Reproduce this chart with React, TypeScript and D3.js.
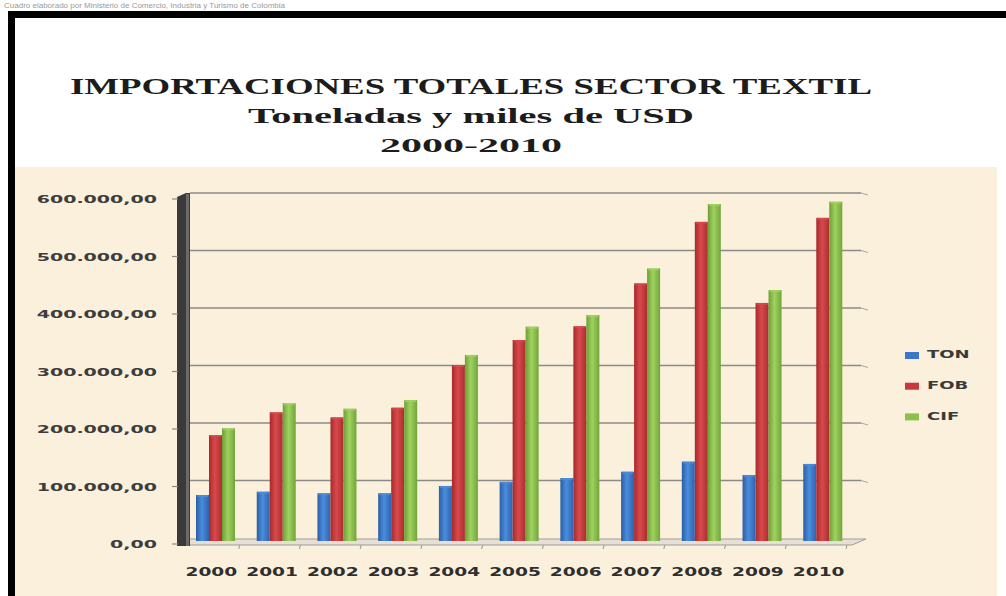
import * as d3 from 'd3';

const WIDTH = 1006;
const HEIGHT = 596;

const YEARS = ['2000', '2001', '2002', '2003', '2004', '2005', '2006', '2007', '2008', '2009', '2010'];
const SERIES = ['TON', 'FOB', 'CIF'];
const TON = [80000, 85700, 83000, 83000, 95700, 103000, 109500, 120500, 138000, 114800, 134000];
const FOB = [184000, 223800, 215000, 231800, 306000, 349600, 373500, 448000, 555000, 414000, 562000];
const CIF = [196000, 239500, 230000, 245000, 323500, 372700, 393000, 474000, 586000, 436500, 590000];
const Y_TICKS = [0, 100000, 200000, 300000, 400000, 500000, 600000];

const TITLE = ['IMPORTACIONES TOTALES SECTOR TEXTIL', 'Toneladas y miles de USD', '2000-2010'];

// dark / light / dark stops for the cylinder-ish 3d look
const COLORS: Record<string, string[]> = {
  TON: ['#2a5ea8', '#4b8ddb', '#2d63b0'],
  FOB: ['#a52a2c', '#d9494b', '#ab2e30'],
  CIF: ['#6c9e35', '#a0d260', '#72a53a'],
};
const LEGEND_SWATCH: Record<string, string> = { TON: '#3a78c9', FOB: '#c53a3c', CIF: '#8cc04c' };

const esLocale = d3.formatLocale({ decimal: ',', thousands: '.', grouping: [3], currency: ['', ''] });
const fmt = esLocale.format(',.2f');

export default function App() {
  const values: Record<string, number[]> = { TON, FOB, CIF };

  const y = d3.scaleLinear().domain([0, 600000]).range([541, 196]);
  const x0 = d3.scaleBand<string>().domain(YEARS).range([179, 847]).padding(0);
  const x1 = d3.scaleBand<string>().domain(SERIES).range([17, 56]).padding(0);

  const floorY = y(0);

  return (
    <div style={{ position: 'absolute', left: 0, top: 0 }}>
      <svg width={WIDTH} height={HEIGHT} style={{ display: 'block' }}>
        <defs>
          {SERIES.map((s) => (
            <linearGradient key={s} id={'grad-' + s} x1="0" x2="1" y1="0" y2="0">
              <stop offset="0%" stopColor={COLORS[s][0]} />
              <stop offset="45%" stopColor={COLORS[s][1]} />
              <stop offset="100%" stopColor={COLORS[s][2]} />
            </linearGradient>
          ))}
        </defs>

        <rect x={0} y={0} width={WIDTH} height={HEIGHT} fill="#ffffff" />

        {/* small caption above the frame */}
        <text x={4} y={8} fontFamily="Liberation Sans, Arial" fontSize={8} fill="#9a9a9a">
          Cuadro elaborado por Ministerio de Comercio, Industria y Turismo de Colombia
        </text>

        {/* black frame */}
        <rect x={8} y={11} width={WIDTH - 8} height={7} fill="#000" />
        <rect x={8} y={11} width={7} height={HEIGHT - 11} fill="#000" />

        {/* beige plot background */}
        <rect x={15} y={167} width={982} height={HEIGHT - 167} fill="#fbf0dc" />

        {/* titles */}
        <g fontFamily="Liberation Serif, Times New Roman, serif" fontWeight="bold" fill="#1c1c1c" textAnchor="middle">
          <text x={471} y={94} fontSize={23} textLength={802} lengthAdjust="spacingAndGlyphs">
            {TITLE[0]}
          </text>
          <text x={471} y={123} fontSize={21} textLength={446} lengthAdjust="spacingAndGlyphs">
            {TITLE[1]}
          </text>
          <text x={471} y={152} fontSize={19} textLength={182} lengthAdjust="spacingAndGlyphs">
            {TITLE[2]}
          </text>
        </g>

        {/* gridlines on the back wall */}
        {Y_TICKS.filter((t) => t > 0).map((t) => (
          <g key={'g' + t}>
            <line x1={190} x2={861} y1={y(t) - 3} y2={y(t) - 3} stroke="#8c8a86" strokeWidth={1.6} />
            <line x1={861} x2={868} y1={y(t) - 3} y2={y(t) - 1} stroke="#a8a6a0" strokeWidth={1} />
          </g>
        ))}

        {/* floor */}
        <polygon
          points={`178,${floorY + 4} 852,${floorY + 4} 866,${floorY - 2} 190,${floorY - 2}`}
          fill="#e6e0d4"
          stroke="#a09d96"
          strokeWidth={1}
        />
        {YEARS.map((yr) => (
          <line
            key={'xt' + yr}
            x1={x0(yr)! + x0.bandwidth()}
            x2={x0(yr)! + x0.bandwidth() - 1}
            y1={floorY + 4}
            y2={floorY + 8}
            stroke="#9a978f"
            strokeWidth={1}
          />
        ))}

        {/* y axis wall */}
        <polygon points={`177,197 186,193 190,193 190,${floorY + 5} 177,${floorY + 5}`} fill="#3a3a3a" />
        <rect x={186} y={194} width={3} height={floorY - 189} fill="#6b6b6b" />
        {Y_TICKS.map((t) => (
          <line key={'yt' + t} x1={172} x2={178} y1={y(t) + 3} y2={y(t) + 3} stroke="#8a8a8a" strokeWidth={1.2} />
        ))}

        {/* y tick labels */}
        {Y_TICKS.map((t) => (
          <g key={'yl' + t} transform={`translate(157,${y(t) + 4}) scale(1.73,1)`}>
            <text
              textAnchor="end"
              dominantBaseline="middle"
              fontFamily="DejaVu Sans, sans-serif"
              fontWeight="bold"
              fontSize={11}
              fill="#3d3d3d"
            >
              {fmt(t)}
            </text>
          </g>
        ))}

        {/* bars */}
        {YEARS.map((yr, i) => (
          <g key={'b' + yr} transform={`translate(${x0(yr)},0)`}>
            {SERIES.map((s) => {
              const v = values[s][i];
              const top = y(v);
              return (
                <g key={s}>
                  <rect x={x1(s)} y={top} width={x1.bandwidth()} height={floorY - top} fill={`url(#grad-${s})`} />
                  <rect x={x1(s)! + 1} y={top} width={x1.bandwidth() - 2} height={2} fill={COLORS[s][1]} opacity={0.8} />
                </g>
              );
            })}
          </g>
        ))}

        {/* x labels */}
        {YEARS.map((yr) => (
          <g key={'xl' + yr} transform={`translate(${x0(yr)! + x0.bandwidth() / 2 + 2},573) scale(1.55,1)`}>
            <text
              textAnchor="middle"
              dominantBaseline="middle"
              fontFamily="DejaVu Sans, sans-serif"
              fontWeight="bold"
              fontSize={12}
              fill="#2e2e2e"
            >
              {yr}
            </text>
          </g>
        ))}

        {/* legend */}
        {SERIES.map((s, i) => {
          const cy = 355.5 + i * 30.7;
          return (
            <g key={'lg' + s}>
              <rect x={905} y={cy - 3.5} width={14} height={7} fill={LEGEND_SWATCH[s]} />
              <g transform={`translate(927,${cy}) scale(1.8,1)`}>
                <text
                  dominantBaseline="middle"
                  fontFamily="DejaVu Sans, sans-serif"
                  fontWeight="bold"
                  fontSize={10}
                  fill="#3a3a3a"
                >
                  {s}
                </text>
              </g>
            </g>
          );
        })}
      </svg>
    </div>
  );
}
